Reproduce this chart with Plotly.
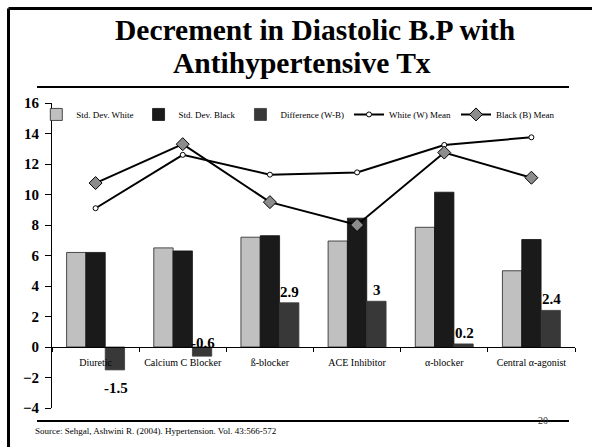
import plotly.graph_objects as go

categories = ["Diuretic", "Calcium C Blocker", "ß-blocker", "ACE Inhibitor", "α-blocker", "Central α-agonist"]
sd_white = [6.2, 6.5, 7.2, 6.95, 7.85, 5.0]
sd_black = [6.2, 6.3, 7.3, 8.45, 10.15, 7.05]
difference = [-1.5, -0.6, 2.9, 3.0, 0.2, 2.4]
white_mean = [9.1, 12.6, 11.3, 11.45, 13.25, 13.75]
black_mean = [10.75, 13.3, 9.5, 8.0, 12.75, 11.1]
y_ticks = [-4, -2, 0, 2, 4, 6, 8, 10, 12, 14, 16]
title_lines = ["Decrement in Diastolic B.P with", "Antihypertensive Tx"]
source_text = "Source: Sehgal, Ashwini R. (2004). Hypertension. Vol. 43:566-572"
page_number = "20"

W, H = 592, 447
L, R, T, B = 52, 575, 103, 408
def px(x):
    return (x - L) / (R - L)
def py(y):
    return (B - y) / (B - T)

serif = "Liberation Serif"
fig = go.Figure()
fig.add_bar(name="Std. Dev. White", x=categories, y=sd_white,
            marker=dict(color="#C0C0C0", line=dict(color="#222222", width=0.8)))
fig.add_bar(name="Std. Dev. Black", x=categories, y=sd_black,
            marker=dict(color="#1A1A1A", line=dict(color="#111111", width=0.8)))
fig.add_bar(name="Difference (W-B)", x=categories, y=difference,
            marker=dict(color="#383838", line=dict(color="#383838", width=0.8)))
fig.add_scatter(name="White (W) Mean", x=categories, y=white_mean, mode="lines+markers",
                line=dict(color="black", width=2),
                marker=dict(symbol="circle", size=5, color="white", line=dict(color="black", width=1)))
fig.add_scatter(name="Black (B) Mean", x=categories, y=black_mean, mode="lines+markers",
                line=dict(color="black", width=2),
                marker=dict(symbol="diamond", size=10, color="#8C8C8C", line=dict(color="black", width=1)))

# labels of the difference bars (beside the third bar of each group)
for cat, v in zip(categories, difference):
    if v >= 0:
        anchor, shift = "bottom", 1
    elif v > -1:
        anchor, shift = "bottom", 3
    else:
        anchor, shift = "top", -8
    fig.add_annotation(x=cat, y=v, xref="x", yref="y", text=f"{v:g}", showarrow=False,
                       xshift=20, yanchor=anchor, yshift=shift,
                       font=dict(family=serif, size=15, color="black", weight="bold"))

fig.update_layout(
    width=W, height=H,
    margin=dict(l=L, r=W - R, t=T, b=H - B),
    paper_bgcolor="white", plot_bgcolor="white",
    barmode="group", bargap=0.335, bargroupgap=0,
    font=dict(family=serif, color="black"),
    legend=dict(orientation="h", x=-0.03, xanchor="left", y=1.01, yanchor="top",
                font=dict(family=serif, size=9, color="black"),
                itemwidth=30, bgcolor="rgba(0,0,0,0)", traceorder="normal"),
    xaxis=dict(type="category", anchor="free", position=0.2, showline=True,
               linecolor="black", linewidth=1, ticks="outside", tickson="boundaries",
               ticklen=4, tickcolor="black", showgrid=False, ticklabelstandoff=6,
               tickfont=dict(family=serif, size=10, color="black")),
    yaxis=dict(range=[-4, 16], tickvals=y_ticks, showline=True, linecolor="black",
               linewidth=1, ticks="outside", ticklen=6, tickcolor="black", showgrid=False,
               zeroline=False, ticklabelstandoff=3,
               tickfont=dict(family=serif, size=15, color="black", weight="bold")),
    showlegend=True,
)

shapes = [
    dict(type="line", xref="paper", yref="paper", x0=px(8.5), x1=px(W + 5), y0=py(8.5), y1=py(8.5),
         line=dict(color="black", width=3)),
    dict(type="line", xref="paper", yref="paper", x0=px(8.5), x1=px(8.5), y0=py(8.5), y1=py(H + 5),
         line=dict(color="black", width=3)),
    dict(type="line", xref="paper", yref="paper", x0=px(37), x1=px(569), y0=py(87), y1=py(87),
         line=dict(color="black", width=2)),
    dict(type="line", xref="paper", yref="paper", x0=px(37), x1=px(569), y0=py(421), y1=py(421),
         line=dict(color="black", width=2)),
]
fig.update_layout(shapes=shapes)
fig.add_annotation(xref="paper", yref="paper", x=px(315), y=py(30), xanchor="center", yanchor="middle",
                   text=title_lines[0], showarrow=False,
                   font=dict(family=serif, size=29.5, color="black", weight="bold"))
fig.add_annotation(xref="paper", yref="paper", x=px(302), y=py(63), xanchor="center", yanchor="middle",
                   text=title_lines[1], showarrow=False,
                   font=dict(family=serif, size=29.5, color="black", weight="bold"))
fig.add_annotation(xref="paper", yref="paper", x=px(33), y=py(431), xanchor="left", yanchor="middle",
                   text=source_text, showarrow=False, font=dict(family=serif, size=9, color="black"))
fig.add_annotation(xref="paper", yref="paper", x=px(543), y=py(420), xanchor="center", yanchor="middle",
                   text=page_number, showarrow=False, font=dict(family=serif, size=10, color="#333333"))

fig.write_html("out.html", config={"displayModeBar": False},
               post_script="document.body.style.margin='0';document.body.style.overflow='hidden';")
